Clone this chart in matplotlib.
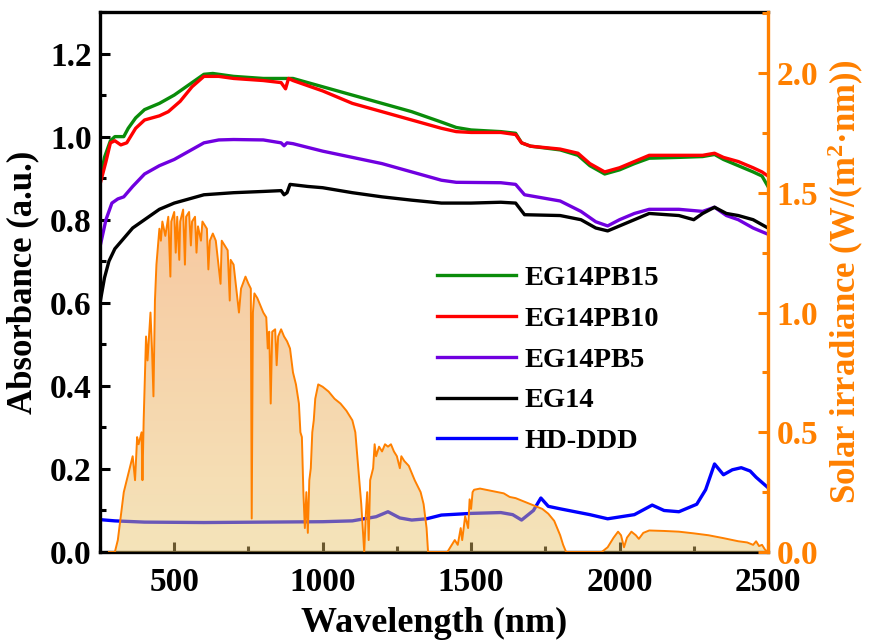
import numpy as np
import matplotlib
matplotlib.use("Agg")
from matplotlib import pyplot as plt
from matplotlib.ticker import MultipleLocator, FormatStrFormatter
from matplotlib.colors import to_rgb

plt.rcParams['font.family'] = ['Liberation Serif', 'DejaVu Serif']
plt.rcParams['font.weight'] = 'bold'
plt.rcParams['axes.labelweight'] = 'bold'
plt.rcParams['mathtext.fontset'] = 'custom'
plt.rcParams['mathtext.rm'] = 'Liberation Serif:bold'
plt.rcParams['mathtext.bf'] = 'Liberation Serif:bold'
plt.rcParams['mathtext.default'] = 'bf'

# absorbance spectra (wavelength nm, absorbance a.u.)
wl_pb15 = [250, 265, 285, 300, 330, 345, 370, 400, 450, 500, 550, 600, 630, 700, 800, 860, 900,
           1000, 1100, 1200, 1300, 1400, 1450, 1500, 1600, 1650, 1670, 1700, 1800, 1860, 1900,
           1950, 2000, 2050, 2100, 2200, 2280, 2320, 2350, 2400, 2450, 2480, 2500]
ab_pb15 = [0.895, 0.95, 0.99, 1.0, 1.0, 1.02, 1.045, 1.065, 1.08, 1.10, 1.125, 1.15, 1.152, 1.145,
           1.14, 1.14, 1.14, 1.12, 1.10, 1.08, 1.06, 1.035, 1.022, 1.016, 1.012, 1.008, 0.985, 0.977,
           0.968, 0.955, 0.93, 0.91, 0.92, 0.935, 0.948, 0.95, 0.952, 0.957, 0.945, 0.93, 0.915,
           0.905, 0.88]

wl_pb10 = [250, 270, 285, 300, 320, 340, 370, 400, 450, 480, 520, 560, 600, 650, 700, 800, 860,
           875, 885, 900, 1000, 1100, 1200, 1300, 1400, 1450, 1500, 1600, 1650, 1670, 1700, 1800,
           1860, 1900, 1950, 2000, 2050, 2100, 2200, 2280, 2320, 2350, 2400, 2450, 2480, 2500]
ab_pb10 = [0.885, 0.94, 0.985, 0.99, 0.98, 0.985, 1.02, 1.04, 1.05, 1.06, 1.085, 1.12, 1.145,
           1.145, 1.14, 1.135, 1.13, 1.115, 1.14, 1.135, 1.11, 1.08, 1.06, 1.04, 1.02, 1.012, 1.01,
           1.01, 1.005, 0.985, 0.977, 0.97, 0.96, 0.935, 0.915, 0.925, 0.94, 0.955, 0.955, 0.955,
           0.96, 0.95, 0.94, 0.925, 0.915, 0.905]

wl_pb5 = [250, 270, 290, 310, 330, 360, 400, 450, 500, 550, 600, 650, 700, 800, 860, 870, 880,
          900, 1000, 1100, 1200, 1300, 1400, 1450, 1600, 1650, 1680, 1800, 1870, 1920, 1960, 2000,
          2050, 2100, 2200, 2280, 2320, 2360, 2400, 2450, 2500]
ab_pb5 = [0.735, 0.80, 0.84, 0.85, 0.855, 0.88, 0.91, 0.93, 0.945, 0.965, 0.985, 0.992, 0.993,
          0.992, 0.985, 0.978, 0.985, 0.983, 0.965, 0.95, 0.935, 0.915, 0.895, 0.89, 0.889, 0.885,
          0.86, 0.845, 0.82, 0.795, 0.785, 0.80, 0.815, 0.825, 0.825, 0.82, 0.83, 0.81, 0.80, 0.78,
          0.765]

wl_eg14 = [250, 265, 280, 300, 330, 360, 400, 450, 500, 550, 600, 700, 800, 860, 870, 880, 890,
           950, 1000, 1100, 1200, 1300, 1400, 1500, 1600, 1650, 1680, 1800, 1870, 1920, 1960, 2000,
           2050, 2100, 2200, 2250, 2280, 2320, 2360, 2400, 2450, 2500]
ab_eg14 = [0.60, 0.66, 0.70, 0.73, 0.755, 0.78, 0.80, 0.825, 0.84, 0.85, 0.86, 0.865, 0.868, 0.87,
           0.86, 0.865, 0.885, 0.88, 0.877, 0.865, 0.855, 0.847, 0.84, 0.84, 0.842, 0.84, 0.812,
           0.81, 0.80, 0.78, 0.773, 0.785, 0.80, 0.815, 0.81, 0.80, 0.815, 0.83, 0.815, 0.81, 0.80,
           0.78]

wl_hd = [250, 300, 400, 600, 800, 1000, 1100, 1180, 1220, 1260, 1300, 1350, 1400, 1500, 1600, 1640,
         1670, 1710, 1735, 1760, 1800, 1900, 1960, 2050, 2110, 2150, 2200, 2260, 2290, 2320, 2350,
         2380, 2410, 2440, 2460, 2500]
ab_hd = [0.078, 0.075, 0.072, 0.071, 0.072, 0.073, 0.075, 0.085, 0.097, 0.082, 0.077, 0.08, 0.089,
         0.093, 0.095, 0.09, 0.077, 0.10, 0.13, 0.11, 0.104, 0.09, 0.08, 0.09, 0.113, 0.10, 0.097,
         0.115, 0.15, 0.212, 0.186, 0.198, 0.203, 0.195, 0.18, 0.155]

# AM1.5G solar irradiance (W/(m2 nm))
wl_sun = [280, 300, 310, 320, 330, 340, 350, 360, 368, 375, 380, 390, 393, 397, 405, 410, 420, 425,
          430, 435, 440, 450, 455, 460, 470, 480, 487, 490, 500, 505, 510, 517, 520, 530, 536, 540,
          550, 556, 560, 570, 575, 580, 590, 595, 610, 615, 620, 630, 640, 656, 660, 670, 680, 687,
          690, 700, 718, 725, 740, 750, 758, 761, 765, 770, 780, 800, 810, 815, 820, 825, 830, 840,
          845, 850, 860, 870, 880, 890, 900, 910, 920, 925, 930, 935, 940, 945, 950, 955, 960, 965,
          970, 975, 985, 1000, 1020, 1040, 1060, 1080, 1100, 1110, 1120, 1130, 1135, 1140, 1145,
          1150, 1155, 1160, 1170, 1175, 1180, 1190, 1200, 1210, 1220, 1230, 1240, 1250, 1260, 1265,
          1275, 1290, 1310, 1330, 1340, 1350, 1355, 1420, 1430, 1445, 1455, 1465, 1470, 1480, 1490,
          1495, 1500, 1505, 1510, 1530, 1550, 1570, 1590, 1610, 1630, 1650, 1680, 1700, 1720, 1740,
          1760, 1780, 1800, 1810, 1820, 1940, 1960, 1980, 1995, 2005, 2015, 2025, 2040, 2055, 2065,
          2080, 2100, 2150, 2200, 2250, 2300, 2350, 2400, 2430, 2450, 2460, 2470, 2480, 2490, 2500]
irr_sun = [0.0, 0.0, 0.05, 0.15, 0.25, 0.30, 0.35, 0.40, 0.30, 0.48, 0.45, 0.50, 0.30, 0.55, 0.90,
           0.80, 1.00, 0.85, 0.65, 1.05, 1.20, 1.35, 1.30, 1.38, 1.32, 1.40, 1.15, 1.38, 1.42, 1.25,
           1.40, 1.22, 1.38, 1.43, 1.20, 1.40, 1.42, 1.28, 1.38, 1.40, 1.25, 1.36, 1.30, 1.38, 1.35,
           1.18, 1.30, 1.33, 1.30, 1.12, 1.30, 1.28, 1.26, 1.05, 1.22, 1.20, 1.00, 1.10, 1.15, 1.12,
           1.10, 0.14, 1.00, 1.08, 1.06, 1.00, 0.98, 0.85, 0.92, 0.62, 0.92, 0.93, 0.78, 0.90, 0.93,
           0.90, 0.88, 0.85, 0.75, 0.70, 0.62, 0.50, 0.48, 0.25, 0.10, 0.25, 0.08, 0.30, 0.35, 0.50,
           0.55, 0.64, 0.70, 0.69, 0.67, 0.64, 0.62, 0.59, 0.55, 0.50, 0.35, 0.20, 0.10, 0.0, 0.15,
           0.25, 0.05, 0.30, 0.35, 0.45, 0.40, 0.44, 0.42, 0.45, 0.44, 0.45, 0.42, 0.40, 0.35, 0.40,
           0.38, 0.36, 0.30, 0.25, 0.20, 0.10, 0.0, 0.0, 0.02, 0.05, 0.03, 0.10, 0.05, 0.15, 0.10,
           0.22, 0.18, 0.25, 0.26, 0.265, 0.26, 0.255, 0.25, 0.245, 0.23, 0.225, 0.21, 0.20, 0.19,
           0.18, 0.16, 0.13, 0.07, 0.03, 0.0, 0.0, 0.02, 0.06, 0.085, 0.07, 0.02, 0.06, 0.085, 0.07,
           0.055, 0.08, 0.09, 0.088, 0.085, 0.078, 0.07, 0.058, 0.045, 0.04, 0.03, 0.045, 0.025,
           0.03, 0.01, 0.0]

series = [
    (wl_pb15, ab_pb15, '#0a8c0a', 'EG14PB15'),
    (wl_pb10, ab_pb10, '#ff0000', 'EG14PB10'),
    (wl_pb5, ab_pb5, '#7000e0', 'EG14PB5'),
    (wl_eg14, ab_eg14, '#000000', 'EG14'),
    (wl_hd, ab_hd, '#0000ff', 'HD-DDD'),
]

orange = '#ff8000'

fig = plt.figure(figsize=(8.72, 6.41), dpi=100)
ax1 = fig.add_axes([0.1147, 0.1388, 0.7660, 0.8425])
ax2 = ax1.twinx()

handles = []
for wl, ab, col, lab in series:
    h, = ax1.plot(wl, ab, color=col, lw=2.4, label=lab)
    handles.append(h)

ax1.set_xlim(250, 2500)
ax1.set_ylim(0, 1.30)
ax1.xaxis.set_major_locator(MultipleLocator(500))
ax1.xaxis.set_minor_locator(MultipleLocator(250))
ax1.yaxis.set_major_locator(MultipleLocator(0.2))
ax1.yaxis.set_minor_locator(MultipleLocator(0.1))
ax1.yaxis.set_major_formatter(FormatStrFormatter('%.1f'))
ax1.tick_params(axis='both', which='both', direction='in', width=2.2, labelsize=24, top=False)
ax1.tick_params(which='major', length=7)
ax1.tick_params(which='minor', length=4)
ax1.tick_params(axis='x', pad=11)
ax1.tick_params(axis='y', pad=6)
for s in ['left', 'bottom', 'top']:
    ax1.spines[s].set_linewidth(2.4)
ax1.spines['right'].set_visible(False)
ax1.set_xlabel('Wavelength (nm)', fontsize=26, labelpad=6)
ax1.set_ylabel('Absorbance (a.u.)', fontsize=25, labelpad=8)

# gradient filled solar spectrum
poly = ax2.fill_between(wl_sun, 0, irr_sun, facecolor='none', edgecolor='none')
top_c = np.array(to_rgb('#ef8730'))
bot_c = np.array(to_rgb('#e9c468'))
t = np.linspace(0, 1, 256)[:, None]
grad = np.zeros((256, 1, 4))
grad[:, 0, :3] = bot_c * (1 - t) + top_c * t
grad[:, 0, 3] = 0.46
img = ax2.imshow(grad, extent=[250, 2500, 0, 1.45], origin='lower', aspect='auto',
                 interpolation='bilinear', zorder=1)
img.set_clip_path(poly.get_paths()[0], transform=ax2.transData)
ax2.plot(wl_sun, irr_sun, color=orange, lw=1.4, zorder=2)

ax2.set_xlim(250, 2500)
ax2.set_ylim(0, 2.255)
ax2.yaxis.set_major_locator(MultipleLocator(0.5))
ax2.yaxis.set_minor_locator(MultipleLocator(0.25))
ax2.yaxis.set_major_formatter(FormatStrFormatter('%.1f'))
ax2.tick_params(axis='y', which='both', direction='in', width=2.2, color=orange,
                labelcolor=orange, labelsize=24, pad=6)
ax2.tick_params(which='major', length=7)
ax2.tick_params(which='minor', length=4)
for s in ['left', 'bottom', 'top']:
    ax2.spines[s].set_visible(False)
ax2.spines['right'].set_color(orange)
ax2.spines['right'].set_linewidth(2.4)
ax2.set_ylabel('Solar irradiance (W/(m$^2$·nm))', fontsize=25, color=orange, labelpad=6)

ax2.legend(handles=handles, loc='center left', bbox_to_anchor=(0.505, 0.356), frameon=False,
           fontsize=20.5, handlelength=2.75, handletextpad=0.3, labelspacing=0.52,
           borderpad=0, borderaxespad=0)

fig.savefig('out.png', dpi=100)
